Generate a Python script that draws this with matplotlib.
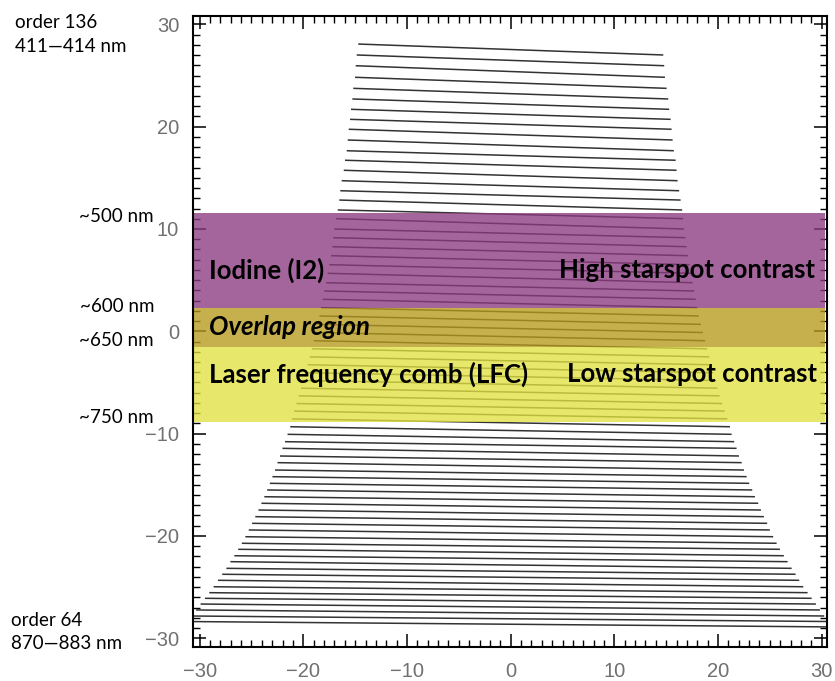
import matplotlib
matplotlib.use("Agg")
import matplotlib.pyplot as plt
from matplotlib.ticker import MultipleLocator

# ---- data (echelle orders 136 ... 64) ----
order_numbers = list(range(136, 63, -1))

# y position of each order trace at its left end and right end
order_y_edges = [
    28.08, 27.01, 25.96, 24.83, 23.75, 22.71, 21.70, 20.72, 19.75, 18.70,
    17.65, 16.72, 15.74, 14.72, 13.74, 12.83, 11.86, 11.01, 10.00, 9.15,
    8.27, 7.39, 6.51, 5.67, 4.75, 3.94, 3.13, 2.31, 1.50, 0.68,
    -0.12, -0.92, -1.71, -2.50, -3.27, -4.05, -4.81, -5.56, -6.31, -7.06,
    -7.80, -8.56, -9.33, -10.07, -10.79, -11.44, -12.19, -12.84, -13.56, -14.21,
    -14.86, -15.51, -16.17, -16.81, -17.47, -18.12, -18.77, -19.42, -20.08, -20.72,
    -21.31, -21.94, -22.52, -23.17, -23.75, -24.34, -24.97, -25.55, -26.10, -26.66,
    -27.24, -27.83, -28.37, -28.90,
]
order_y_start = order_y_edges[:-1]
order_y_end = order_y_edges[1:]

order_x_start = [
    -14.70, -14.85, -14.95, -15.01, -15.18, -15.27, -15.40, -15.49, -15.62, -15.72,
    -15.81, -15.98, -16.10, -16.30, -16.43, -16.53, -16.68, -16.85, -17.01, -17.11,
    -17.20, -17.33, -17.49, -17.65, -17.81, -17.98, -18.13, -18.29,
    -18.45, -18.62, -18.80, -18.99, -19.18, -19.38, -19.58, -19.79, -20.00, -20.22,
    -20.44, -20.66, -20.88, -21.08,
    -21.26, -21.52, -21.77, -22.01, -22.25, -22.49, -22.73, -22.98, -23.23, -23.49,
    -23.76, -24.04, -24.33, -24.63, -24.94, -25.26, -25.59, -25.93, -26.28, -26.65,
    -27.03, -27.42, -27.82, -28.23, -28.65, -29.07, -29.49, -29.91, -30.34, -30.78,
    -31.22,
]
order_x_end = [
    14.72, 14.81, 14.88, 15.04, 15.20, 15.29, 15.43, 15.52, 15.62, 15.74,
    15.91, 16.00, 16.10, 16.25, 16.39, 16.54, 16.63, 16.73, 16.86, 16.96,
    17.11, 17.27, 17.40, 17.55, 17.70, 17.85, 18.00, 18.15,
    18.35, 18.55, 18.75, 18.95, 19.15, 19.35, 19.55, 19.75, 19.95, 20.15,
    20.40, 20.65, 20.90, 21.15,
    21.31, 21.56, 21.79, 22.02, 22.28, 22.50, 22.76, 23.01, 23.30, 23.56,
    23.88, 24.14, 24.43, 24.74, 25.00, 25.32, 25.65, 25.97, 26.35, 26.71,
    27.10, 27.48, 27.83, 28.22, 28.64, 29.03, 29.44, 29.83, 30.24, 30.70,
    31.15,
]

# calibration bands (y ranges)
band_names = ["Iodine (I2)", "Overlap region", "Laser frequency comb (LFC)"]
band_y_low = [2.31, -1.53, -8.87]
band_y_high = [11.59, 2.31, -1.53]
band_colors = ["#8a3a7f", "#b79a1c", "#e1e141"]

contrast_labels = ["High starspot contrast", "Low starspot contrast"]

left_labels = ["order 136", "411\u2014414 nm", "~500 nm", "~600 nm",
               "~650 nm", "~750 nm", "order 64", "870\u2014883 nm"]

axis_ticks = [-30, -20, -10, 0, 10, 20, 30]

# ---- figure ----
W, H = 835, 681
fig = plt.figure(figsize=(W / 100, H / 100), dpi=100)
ax = fig.add_axes([193 / W, 1 - 647 / H, (827.3 - 193) / W, (647 - 15.7) / H])
ax.set_xlim(-30.64, 30.54)
ax.set_ylim(-30.86, 30.85)

for xs, xe, ys, ye in zip(order_x_start, order_x_end, order_y_start, order_y_end):
    ax.plot([xs, xe], [ys, ye], color="#333333", lw=1.1,
            solid_capstyle="butt", zorder=2)

for lo, hi, c in zip(band_y_low, band_y_high, band_colors):
    ax.axhspan(lo, hi, xmin=0, xmax=0.996, facecolor=c, alpha=0.78,
               edgecolor="none", zorder=2.2)

# ticks
for a in (ax.xaxis, ax.yaxis):
    a.set_major_locator(MultipleLocator(10))
    a.set_minor_locator(MultipleLocator(1))
ax.set_xticks(axis_ticks)
ax.set_yticks(axis_ticks)
ax.tick_params(which="both", direction="in", top=True, right=True,
               color="black", labelcolor="#707070", labelsize=14.5)
ax.tick_params(axis="y", which="major", length=9.5, width=1.1, pad=10)
ax.tick_params(axis="x", which="major", length=9.5, width=1.1, pad=11)
ax.tick_params(which="minor", length=5, width=1.0)
for lab in ax.get_xticklabels() + ax.get_yticklabels():
    lab.set_family("Liberation Sans")
for s in ax.spines.values():
    s.set_linewidth(1.5)
    s.set_color("black")

# band labels
bold = dict(family="Lato", fontweight="bold", fontsize=18.5, color="black",
            va="center", zorder=5)
ax.text(-29.09, 6.0, band_names[0], ha="left", **bold)
ax.text(-29.09, 0.42, band_names[1], ha="left", style="italic", **bold)
ax.text(-29.09, -4.17, band_names[2], ha="left", **bold)
ax.text(29.4, 6.0, contrast_labels[0], ha="right", **bold)
ax.text(29.5, -4.17, contrast_labels[1], ha="right", **bold)

# outer labels (pixel positions)
lab_kw = dict(family="Lato", fontsize=13.5, color="black", va="center")
left_pos = [(15, 22.7, "left"), (15, 46.7, "left"), (154, 216, "right"),
            (154, 306.7, "right"), (154, 340.7, "right"), (154, 417.3, "right"),
            (11, 620, "left"), (11, 643.3, "left")]
for txt, (px, py, ha) in zip(left_labels, left_pos):
    fig.text(px / W, 1 - py / H, txt, ha=ha, **lab_kw)

fig.savefig("out.png", dpi=100)
